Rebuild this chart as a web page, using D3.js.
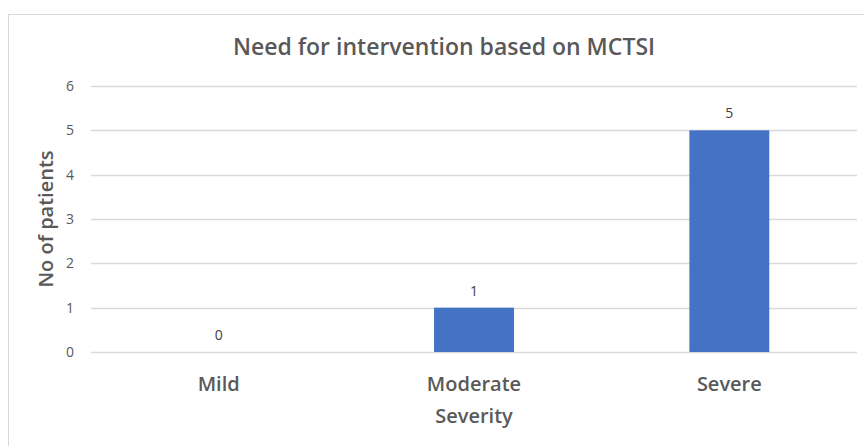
<!DOCTYPE html>
<html>
<head>
<meta charset="utf-8">
<script src="https://cdn.jsdelivr.net/npm/d3@7"></script>
<style>
  body { margin: 0; background: #fff; }
  svg { display: block; font-family: "Open Sans", Calibri, sans-serif; }
</style>
</head>
<body>
<svg id="chart" width="864" height="446"></svg>
<script>
const categories = ["Mild", "Moderate", "Severe"]
const patients = [0, 1, 5]
const y_ticks = [0, 1, 2, 3, 4, 5, 6]

const width = 864
const height = 446
const plot_left = 91
const plot_right = 857
const plot_top = 86
const plot_bottom = 352

const svg = d3.select("#chart")

// outer chart border (cut at right and bottom in the original)
svg.append("rect")
    .attr("x", 8.5)
    .attr("y", 14.5)
    .attr("width", width)
    .attr("height", height)
    .attr("fill", "none")
    .attr("stroke", "#d9d9d9")

const x = d3.scaleBand().domain(categories).range([plot_left, plot_right])
const y = d3.scaleLinear().domain([0, 6]).range([plot_bottom, plot_top])
const bar_width = x.bandwidth() * 0.313

// gridlines
svg.append("g")
    .selectAll("line")
    .data(y_ticks)
    .join("line")
        .attr("x1", plot_left)
        .attr("x2", plot_right)
        .attr("y1", d => Math.round(y(d)) + 0.5)
        .attr("y2", d => Math.round(y(d)) + 0.5)
        .attr("stroke", "#d9d9d9")
        .attr("stroke-width", 1.3)

// y tick labels
svg.append("g")
    .selectAll("text")
    .data(y_ticks)
    .join("text")
        .attr("x", 74)
        .attr("y", d => y(d))
        .attr("dy", "0.35em")
        .attr("text-anchor", "end")
        .attr("font-size", 14)
        .attr("fill", "#595959")
        .text(d => d)

// bars
svg.append("g")
    .selectAll("rect")
    .data(categories)
    .join("rect")
        .attr("x", d => x(d) + x.bandwidth() / 2 - bar_width / 2)
        .attr("y", (d, i) => y(patients[i]))
        .attr("width", bar_width)
        .attr("height", (d, i) => y(0) - y(patients[i]))
        .attr("fill", "#4472c4")

// value labels
svg.append("g")
    .selectAll("text")
    .data(categories)
    .join("text")
        .attr("x", d => x(d) + x.bandwidth() / 2)
        .attr("y", (d, i) => y(patients[i]) - 12)
        .attr("text-anchor", "middle")
        .attr("font-size", 14)
        .attr("fill", "#404040")
        .text((d, i) => patients[i])

// category labels
svg.append("g")
    .selectAll("text")
    .data(categories)
    .join("text")
        .attr("x", d => x(d) + x.bandwidth() / 2)
        .attr("y", 391)
        .attr("text-anchor", "middle")
        .attr("font-size", 20)
        .attr("font-weight", 600)
        .attr("fill", "#595959")
        .text(d => d)

// title
svg.append("text")
    .attr("x", 444)
    .attr("y", 55)
    .attr("text-anchor", "middle")
    .attr("font-size", 23)
    .attr("font-weight", 600)
    .attr("fill", "#595959")
    .text("Need for intervention based on MCTSI")

// x axis title
svg.append("text")
    .attr("x", 474)
    .attr("y", 423)
    .attr("text-anchor", "middle")
    .attr("font-size", 20)
    .attr("font-weight", 600)
    .attr("fill", "#595959")
    .text("Severity")

// y axis title
svg.append("text")
    .attr("transform", "translate(53," + ((plot_top + plot_bottom) / 2) + ") rotate(-90)")
    .attr("text-anchor", "middle")
    .attr("font-size", 20)
    .attr("font-weight", 600)
    .attr("fill", "#595959")
    .text("No of patients")
</script>
</body>
</html>
